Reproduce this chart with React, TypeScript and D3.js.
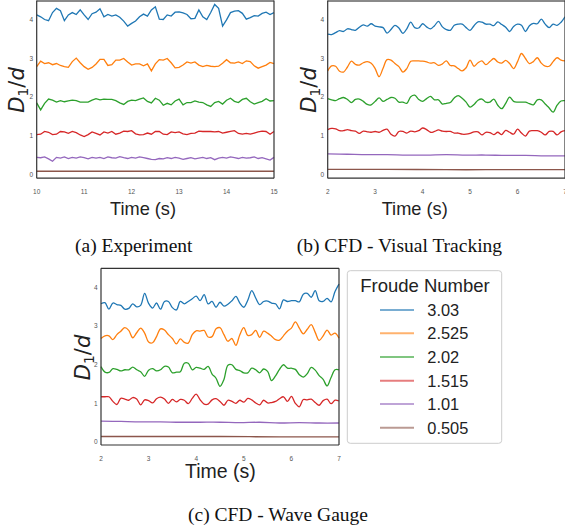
import React from 'react';
import * as d3 from 'd3';

const froude = ["3.03", "2.525", "2.02", "1.515", "1.01", "0.505"];
const colors = ["#1f77b4", "#ff7f0e", "#2ca02c", "#d62728", "#9467bd", "#8c564b"];
const yTicks = [0, 1, 2, 3, 4];
const expTicks = [10, 11, 12, 13, 14, 15];
const cfdTicks = [2, 3, 4, 5, 6, 7];

// (a) Experiment, samples spread evenly over 10-15 s
const exp303 = [4.13, 4.08, 4.01, 3.98, 4.19, 4.30, 4.24, 3.98, 4.13, 4.19, 4.14, 4.26, 4.13, 4.01, 4.16, 4.20, 4.29, 4.08, 4.14, 4.10, 4.13, 4.07, 3.97, 3.84, 3.91, 3.97, 4.08, 4.15, 4.10, 4.26, 4.34, 4.02, 4.01, 4.13, 4.10, 4.20, 4.21, 4.18, 4.14, 4.03, 4.04, 4.26, 4.08, 4.01, 4.19, 4.40, 4.30, 3.84, 4.00, 4.19, 4.23, 4.24, 4.17, 4.02, 4.06, 4.11, 4.10, 4.17, 4.20, 4.14, 4.19];
const exp2525 = [2.79, 2.93, 2.87, 2.89, 2.84, 2.87, 2.82, 2.79, 2.77, 2.92, 3.01, 2.89, 2.79, 2.72, 2.77, 2.86, 2.98, 2.98, 2.82, 2.84, 2.96, 2.96, 3.00, 2.91, 2.83, 2.86, 2.86, 2.81, 2.86, 2.68, 2.86, 2.97, 2.96, 3.00, 2.89, 2.76, 2.77, 2.83, 2.91, 2.88, 2.91, 2.83, 2.79, 2.82, 2.80, 2.79, 2.80, 2.88, 2.97, 2.89, 2.88, 2.91, 2.87, 2.94, 2.92, 2.81, 2.75, 2.79, 2.83, 2.90, 2.87];
const exp202 = [1.85, 1.67, 1.84, 1.95, 1.92, 1.87, 1.91, 1.88, 1.90, 1.92, 1.91, 1.87, 1.87, 1.87, 1.92, 1.96, 1.93, 1.95, 1.94, 1.94, 1.91, 1.85, 1.81, 1.89, 1.92, 1.91, 1.95, 1.98, 1.89, 1.85, 1.97, 1.92, 1.79, 1.84, 1.80, 1.90, 1.95, 1.80, 1.86, 1.86, 1.90, 1.87, 1.86, 1.80, 1.76, 1.86, 1.89, 1.82, 1.92, 1.97, 1.89, 1.86, 1.94, 1.97, 1.88, 1.82, 1.86, 1.89, 1.96, 1.90, 1.91];
const exp1515 = [1.03, 1.04, 1.11, 1.09, 1.03, 1.04, 1.11, 1.10, 1.06, 1.11, 1.08, 1.02, 0.98, 1.03, 1.10, 1.06, 1.02, 1.10, 1.07, 1.11, 1.04, 1.07, 1.12, 1.11, 1.13, 1.05, 1.02, 1.03, 1.07, 1.04, 1.11, 1.11, 1.04, 1.03, 1.10, 1.08, 1.10, 1.05, 1.03, 1.06, 1.07, 1.12, 1.11, 1.11, 1.11, 1.10, 1.11, 1.07, 1.09, 1.11, 1.13, 1.06, 1.04, 1.06, 1.04, 1.07, 1.10, 1.12, 1.11, 1.04, 1.11];
const exp101 = [0.44, 0.43, 0.45, 0.40, 0.34, 0.44, 0.42, 0.45, 0.41, 0.44, 0.42, 0.45, 0.43, 0.40, 0.44, 0.42, 0.44, 0.41, 0.45, 0.43, 0.42, 0.46, 0.43, 0.41, 0.44, 0.42, 0.45, 0.43, 0.41, 0.39, 0.38, 0.41, 0.40, 0.43, 0.41, 0.44, 0.42, 0.39, 0.41, 0.43, 0.40, 0.42, 0.44, 0.41, 0.43, 0.38, 0.42, 0.44, 0.42, 0.45, 0.43, 0.41, 0.44, 0.42, 0.43, 0.45, 0.41, 0.43, 0.40, 0.37, 0.44];
const exp0505 = [0.08, 0.08, 0.08, 0.08, 0.08];

// (b) CFD - Visual Tracking, 2-7 s
const vis303 = [3.63, 3.62, 3.67, 3.72, 3.70, 3.77, 3.75, 3.73, 3.81, 3.87, 3.84, 3.90, 3.84, 3.82, 3.80, 3.66, 3.75, 3.86, 3.79, 3.65, 3.77, 3.94, 3.80, 3.79, 3.90, 3.82, 3.77, 3.85, 3.96, 3.82, 3.75, 3.73, 3.86, 3.89, 3.89, 3.80, 3.73, 3.85, 3.95, 3.94, 3.89, 3.89, 3.85, 3.95, 3.88, 3.81, 3.70, 3.83, 3.89, 3.86, 3.70, 3.85, 3.91, 3.90, 4.02, 3.89, 3.80, 3.89, 3.86, 3.94, 4.08];
const vis2525 = [2.68, 2.81, 2.80, 2.67, 2.65, 2.78, 2.93, 2.85, 2.83, 2.89, 2.92, 2.88, 2.74, 2.53, 2.75, 2.97, 2.96, 2.87, 2.79, 2.65, 2.74, 2.93, 2.94, 2.94, 2.93, 2.91, 2.88, 2.89, 2.82, 2.86, 2.94, 2.82, 2.81, 2.74, 2.68, 2.76, 2.96, 2.80, 2.89, 2.94, 2.84, 2.92, 3.00, 2.91, 2.88, 2.95, 2.87, 2.74, 2.92, 3.13, 3.00, 2.87, 2.92, 3.02, 2.88, 2.80, 2.80, 2.92, 3.02, 2.96, 2.94];
const vis202 = [1.96, 1.93, 1.91, 1.96, 1.99, 1.94, 1.86, 1.94, 1.95, 1.89, 1.81, 1.80, 1.89, 1.98, 1.89, 1.94, 1.99, 1.97, 1.87, 1.87, 1.84, 2.01, 2.05, 1.94, 1.89, 1.96, 2.02, 1.93, 1.93, 1.82, 1.84, 1.86, 1.98, 2.04, 1.97, 1.87, 1.74, 1.81, 1.92, 1.95, 1.87, 1.87, 1.95, 1.79, 1.70, 1.84, 2.00, 1.89, 1.87, 1.87, 1.87, 1.83, 1.80, 1.93, 1.93, 1.82, 1.72, 1.61, 1.79, 1.90, 1.91];
const vis1515 = [1.16, 1.19, 1.18, 1.13, 1.13, 1.16, 1.13, 1.12, 1.06, 1.12, 1.10, 1.09, 1.11, 1.09, 1.14, 1.17, 1.04, 0.99, 1.11, 1.11, 1.07, 1.12, 1.10, 1.13, 1.20, 1.16, 1.09, 1.11, 1.15, 1.12, 1.11, 1.11, 1.07, 1.07, 1.04, 1.04, 1.06, 1.10, 1.10, 1.02, 1.09, 1.08, 1.03, 1.09, 1.03, 1.14, 1.09, 1.04, 1.17, 1.07, 0.99, 1.12, 1.13, 1.13, 1.09, 1.02, 1.11, 1.11, 1.02, 1.10, 1.13];
const vis101 = [0.53, 0.52, 0.51, 0.51, 0.50, 0.50, 0.51, 0.50, 0.50, 0.49, 0.49, 0.48, 0.48];
const vis0505 = [0.13, 0.13, 0.12, 0.12, 0.12];

// (c) CFD - Wave Gauge, 2-7 s
const gauge303 = [3.58, 3.61, 3.44, 3.60, 3.56, 3.54, 3.44, 3.46, 3.58, 3.50, 3.54, 3.85, 3.59, 3.47, 3.60, 3.44, 3.64, 3.64, 3.48, 3.42, 3.64, 3.58, 3.64, 3.71, 3.78, 3.66, 3.82, 3.58, 3.64, 3.49, 3.62, 3.52, 3.57, 3.66, 3.77, 3.60, 3.49, 3.67, 3.92, 3.73, 3.56, 3.64, 3.65, 3.60, 3.58, 3.45, 3.68, 3.64, 3.66, 3.66, 3.63, 3.83, 3.85, 3.75, 3.92, 3.66, 3.64, 3.72, 3.63, 3.90, 4.09];
const gauge2525 = [2.68, 2.75, 2.75, 2.65, 2.78, 2.87, 2.96, 2.89, 2.70, 2.83, 2.95, 2.82, 2.59, 2.57, 2.73, 2.93, 2.90, 2.78, 2.68, 2.54, 2.67, 2.58, 2.56, 2.78, 2.88, 2.87, 2.89, 2.72, 2.73, 2.93, 2.96, 2.78, 2.61, 2.68, 2.50, 2.78, 2.96, 2.76, 2.78, 2.89, 2.71, 2.87, 2.82, 2.74, 2.65, 2.64, 2.75, 2.87, 2.95, 3.11, 2.95, 2.80, 2.92, 3.04, 2.84, 2.63, 2.75, 2.90, 2.77, 2.82, 2.69];
const gauge202 = [1.95, 1.81, 1.80, 1.90, 1.88, 1.84, 1.87, 1.87, 1.94, 1.87, 1.82, 1.70, 1.86, 1.90, 1.84, 1.87, 1.96, 1.94, 1.79, 1.81, 1.82, 2.04, 2.04, 1.87, 1.93, 1.91, 1.88, 1.96, 1.76, 1.65, 1.44, 1.62, 1.99, 2.00, 1.88, 1.85, 1.79, 1.79, 1.91, 1.87, 1.79, 1.89, 1.83, 1.59, 1.71, 1.88, 2.00, 1.91, 1.91, 1.88, 1.74, 1.68, 1.77, 1.93, 1.86, 1.72, 1.62, 1.45, 1.67, 1.87, 1.87];
const gauge1515 = [1.17, 1.17, 1.17, 1.05, 0.97, 1.13, 1.11, 1.08, 1.15, 1.11, 0.96, 1.09, 1.07, 1.01, 1.12, 1.16, 1.11, 1.00, 1.10, 1.04, 1.10, 1.08, 0.99, 1.13, 1.24, 1.09, 0.98, 0.98, 1.09, 1.12, 1.05, 0.95, 1.08, 1.05, 1.00, 1.08, 1.03, 1.13, 1.09, 1.01, 0.96, 1.08, 1.01, 1.02, 1.05, 1.12, 1.17, 1.05, 1.18, 1.00, 0.91, 1.10, 1.09, 1.11, 1.02, 0.95, 1.07, 1.11, 0.99, 1.08, 1.06];
const gauge101 = [0.54, 0.53, 0.52, 0.52, 0.51, 0.51, 0.51, 0.50, 0.51, 0.49, 0.50, 0.49, 0.49];
const gauge0505 = [0.14, 0.14, 0.14, 0.13, 0.13];

const sans = "'Liberation Sans', Arial, sans-serif";
const serif = "'Liberation Serif', 'Times New Roman', serif";

type PanelProps = {
  left: number; right: number; top: number; bottom: number;
  tDomain: [number, number]; vDomain: [number, number];
  ticks: number[]; series: number[][]; smooth: boolean;
  topCut: boolean; yLab: [number, number]; timeX: number; timeY: number; timeSize: number;
  caption: string; capX: number; capY: number;
};

function Panel(p: PanelProps) {
  const x = d3.scaleLinear().domain(p.tDomain).range([p.left, p.right]);
  const y = d3.scaleLinear().domain(p.vDomain).range([p.bottom, p.top]);
  const [t0, t1] = p.tDomain;
  const line = d3.line<[number, number]>()
    .x(d => x(d[0])).y(d => y(d[1]))
    .curve(p.smooth ? d3.curveCatmullRom : d3.curveLinear);
  return (
    <g>
      {p.series.map((vals, k) => {
        const pts = vals.map((v, i) => [t0 + (i * (t1 - t0)) / (vals.length - 1), v] as [number, number]);
        return <path key={k} d={line(pts) || ""} fill="none" stroke={colors[k]} strokeWidth={1.3} />;
      })}
      {p.topCut
        ? <line x1={p.left} x2={p.right} y1={1} y2={1} stroke="#8a8a8a" strokeWidth={2.2} />
        : <line x1={p.left} x2={p.right} y1={p.top} y2={p.top} stroke="#333" strokeWidth={1.2} />}
      <line x1={p.left} x2={p.left} y1={p.top} y2={p.bottom} stroke="#333" strokeWidth={1.2} />
      <line x1={p.right} x2={p.right} y1={p.top} y2={p.bottom} stroke="#333" strokeWidth={1.2} />
      <line x1={p.left} x2={p.right} y1={p.bottom} y2={p.bottom} stroke="#333" strokeWidth={1.2} />
      {yTicks.map(t => (
        <text key={t} x={p.left - 3.5} y={y(t)} dy="0.35em" textAnchor="end" fontSize={6.5} fill="#555" fontFamily={sans}>{t}</text>
      ))}
      {p.ticks.map(t => (
        <text key={t} x={x(t)} y={p.bottom + 16} textAnchor="middle" fontSize={6.5} fill="#555" fontFamily={sans}>{t}</text>
      ))}
      <text transform={`translate(${p.yLab[0]},${p.yLab[1]}) rotate(-90)`} textAnchor="middle" dy="0.35em"
        fontSize={21} fill="#222" fontFamily="'DejaVu Sans', sans-serif">
        <tspan fontStyle="italic">D</tspan>
        <tspan fontSize={14} dy={4}>1</tspan>
        <tspan dy={-4}>/</tspan>
        <tspan fontStyle="italic">d</tspan>
      </text>
      <text x={p.timeX} y={p.timeY} fontSize={p.timeSize} fill="#222" fontFamily={sans}>Time (s)</text>
      <text x={p.capX} y={p.capY} fontSize={19.5} fill="#111" fontFamily={serif}>{p.caption}</text>
    </g>
  );
}

export default function App() {
  const legendRows = [310, 333.3, 357, 380.7, 404, 427.7];
  return (
    <svg width={565} height={530} style={{ position: 'absolute', left: 0, top: 0, background: '#fff' }}>
      <Panel left={36.7} right={274} top={0.6} bottom={178.2} tDomain={[10, 15]} vDomain={[-0.1, 4.5]}
        ticks={expTicks} series={[exp303, exp2525, exp202, exp1515, exp101, exp0505]} smooth={false}
        topCut={true} yLab={[17, 90]} timeX={110} timeY={215} timeSize={18.2}
        caption="(a) Experiment" capX={75} capY={252} />
      <Panel left={327.7} right={565} top={0.6} bottom={178.2} tDomain={[2, 7]} vDomain={[-0.1, 4.5]}
        ticks={cfdTicks} series={[vis303, vis2525, vis202, vis1515, vis101, vis0505]} smooth={true}
        topCut={true} yLab={[308.5, 90]} timeX={381.7} timeY={215} timeSize={18.2}
        caption="(b) CFD - Visual Tracking" capX={296.7} capY={252} />
      <Panel left={101} right={339} top={268.3} bottom={445} tDomain={[2, 7]} vDomain={[-0.08, 4.5]}
        ticks={cfdTicks} series={[gauge303, gauge2525, gauge202, gauge1515, gauge101, gauge0505]} smooth={true}
        topCut={false} yLab={[82.5, 357.5]} timeX={185} timeY={478} timeSize={19.5}
        caption="(c) CFD - Wave Gauge" capX={188} capY={521} />
      <g>
        <rect x={347.3} y={270.7} width={154.4} height={172.6} rx={3} fill="#fff" stroke="#ccc" strokeWidth={1} />
        <text x={425} y={291.7} textAnchor="middle" fontSize={18.5} fill="#222" fontFamily={sans}>Froude Number</text>
        {froude.map((f, i) => (
          <g key={f}>
            <line x1={380} x2={414} y1={legendRows[i]} y2={legendRows[i]} stroke={colors[i]} strokeOpacity={0.6} strokeWidth={2} />
            <text x={427.3} y={legendRows[i]} dy="0.36em" fontSize={16.4} fill="#222" fontFamily={sans}>{f}</text>
          </g>
        ))}
      </g>
    </svg>
  );
}
